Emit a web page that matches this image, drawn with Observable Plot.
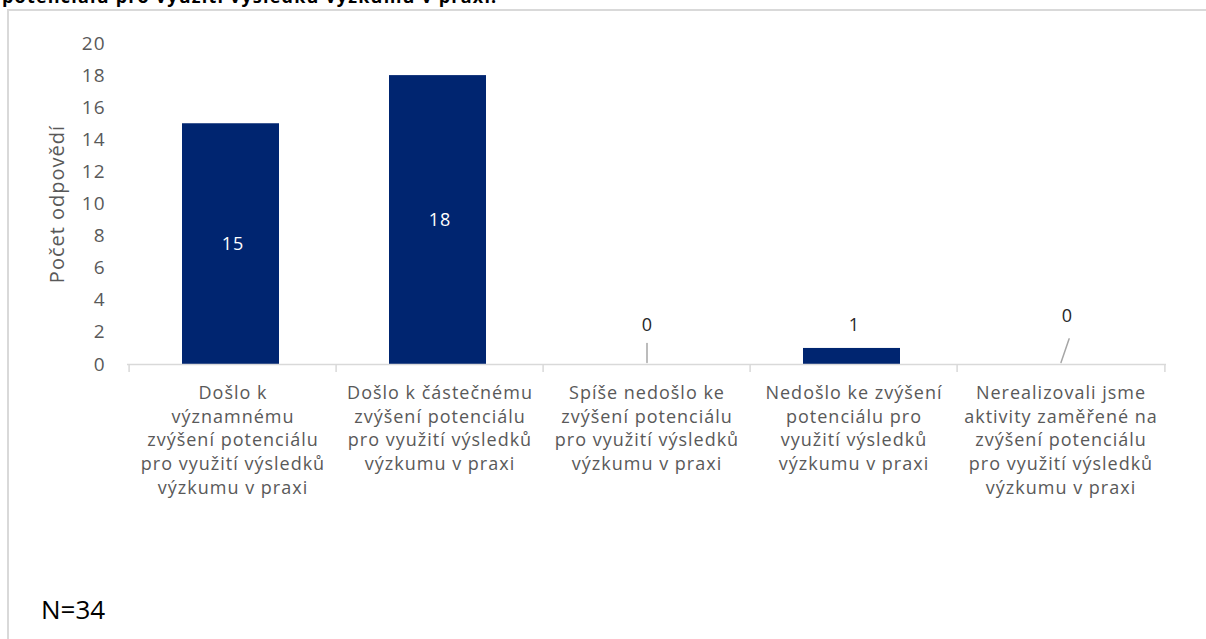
<!DOCTYPE html>
<html><head><meta charset="utf-8">
<script src="https://cdn.jsdelivr.net/npm/d3@7"></script>
<script src="https://cdn.jsdelivr.net/npm/@observablehq/plot@0.6"></script>
<style>
body{margin:0;background:#fff;width:1206px;height:639px;overflow:hidden;position:relative;font-family:"Open Sans",sans-serif}
#title{position:absolute;left:2px;top:-16px;font-weight:bold;font-size:18px;letter-spacing:1.2px;color:#000;white-space:nowrap}
#frame{position:absolute;left:7px;top:9px;width:1210px;height:640px;border-top:2px solid #d9d9d9;border-left:2px solid #d9d9d9}
#chart{position:absolute;left:0;top:0}
#note{position:absolute;left:41px;top:591px;font-size:26px;color:#000}
.cat text{letter-spacing:1px}
.ylab text{letter-spacing:1px}
</style></head><body>
<div id="title"></div>
<div id="frame"></div>
<div id="chart"></div>
<div id="note"></div>
<script>
const titleText = "potenciálu pro využití výsledků výzkumu v praxi.";
const categories = [
  "Došlo k\nvýznamnému\nzvýšení potenciálu\npro využití výsledků\nvýzkumu v praxi",
  "Došlo k částečnému\nzvýšení potenciálu\npro využití výsledků\nvýzkumu v praxi",
  "Spíše nedošlo ke\nzvýšení potenciálu\npro využití výsledků\nvýzkumu v praxi",
  "Nedošlo ke zvýšení\npotenciálu pro\nvyužití výsledků\nvýzkumu v praxi",
  "Nerealizovali jsme\naktivity zaměřené na\nzvýšení potenciálu\npro využití výsledků\nvýzkumu v praxi"
];
const values = [15, 18, 0, 1, 0];
const yTicks = [0, 2, 4, 6, 8, 10, 12, 14, 16, 18, 20];
const yLabel = "Počet odpovědí";
const noteText = "N=34";

document.getElementById("title").textContent = titleText;
document.getElementById("note").textContent = noteText;

const data = categories.map((c, i) => ({cat: c, value: values[i], i}));
const W = 1206, H = 639, mL = 127, mR = 40, mT = 43, mB = 275;
const step = (W - mL - mR) / categories.length;
const grey = "#595959";
const barColor = "#002570";

// leader line geometry for zero-valued labels (style only)
const zeroLead = {2: {rot: 0, len: 19, dx: 0, dy: -39}, 4: {rot: -19, len: 25, dx: 6, dy: -48}};

const leaderShape = {draw(ctx, l) { ctx.moveTo(0, 0); ctx.lineTo(0, -l); }};

const chart = Plot.plot({
  width: W, height: H,
  marginLeft: mL, marginRight: mR, marginTop: mT, marginBottom: mB,
  style: {fontFamily: "'Open Sans', sans-serif", background: "transparent"},
  x: {domain: categories, padding: 0, axis: null},
  y: {domain: [0, 20], axis: null},
  marks: [
    Plot.barY(data, {x: "cat", y: "value", fill: barColor, insetLeft: 53, insetRight: 57}),
    Plot.ruleY([0], {stroke: "#d9d9d9", strokeWidth: 1.5}),
    Plot.ruleX(categories, {x: d => d, y1: 0, y2: -0.5, dx: -step / 2, stroke: "#d9d9d9", strokeWidth: 1.5}),
    Plot.ruleX([categories[categories.length - 1]], {x: d => d, y1: 0, y2: -0.5, dx: step / 2, stroke: "#d9d9d9", strokeWidth: 1.5}),
    Plot.axisY({ticks: yTicks, tickSize: 0, tickPadding: 22, fontSize: 19, fill: grey, className: "ylab",
      label: null}),
    Plot.text([yLabel], {frameAnchor: "left", text: d => d, rotate: -90, dx: -70, fontSize: 20, fill: grey,
      textAnchor: "middle", className: "ylab"}),
    Plot.text(data, {x: "cat", y: 0, text: "cat", lineAnchor: "top", dy: 18, lineHeight: 1.31,
      fontSize: 18, fill: grey, className: "cat"}),
    Plot.text(data.filter(d => d.value >= 2), {x: "cat", y: d => d.value / 2, text: d => String(d.value),
      fill: "#fff", fontSize: 18, className: "cat"}),
    Plot.text(data.filter(d => d.value > 0 && d.value < 2), {x: "cat", y: "value", text: d => String(d.value),
      fill: "#262626", fontSize: 18, dy: -23}),
    ...data.filter(d => d.value === 0).map(d => {
      const z = zeroLead[d.i];
      return [
        Plot.vector([d], {x: "cat", y: 0, length: z.len, rotate: -z.rot, anchor: "start", shape: leaderShape,
          stroke: "#a6a6a6", strokeWidth: 1.5, dy: -2}),
        Plot.text([d], {x: "cat", y: 0, text: e => String(e.value), fill: "#262626", fontSize: 18, dy: z.dy, dx: z.dx})
      ];
    }).flat()
  ]
});
document.getElementById("chart").appendChild(chart);
</script>
</body></html>
